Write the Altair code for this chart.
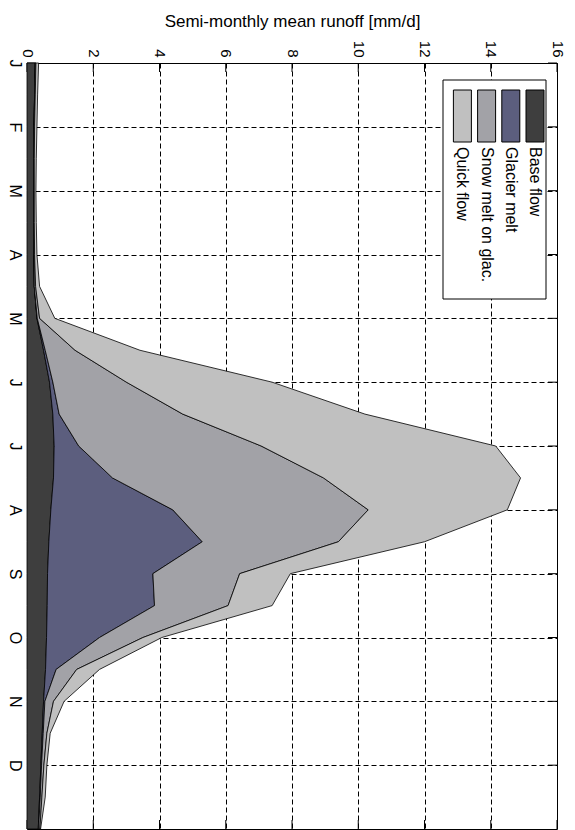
import altair as alt
import pandas as pd

# ---- data: semi-monthly mean runoff components [mm/d], 25 half-month steps (Jan 1 .. Dec 31)
HALF_MONTH = list(range(25))
MONTH_LABELS = ["J", "F", "M", "A", "M", "J", "J", "A", "S", "O", "N", "D"]

BASE_FLOW = [0.25, 0.23, 0.21, 0.20, 0.20, 0.20, 0.21, 0.22, 0.30, 0.50, 0.68, 0.78, 0.82,
             0.80, 0.72, 0.66, 0.62, 0.61, 0.59, 0.56, 0.50, 0.46, 0.42, 0.38, 0.34]
GLACIER_MELT = [0.00, 0.00, 0.00, 0.00, 0.00, 0.00, 0.00, 0.00, 0.01, 0.05, 0.10, 0.19, 0.74,
                1.78, 3.68, 4.63, 3.18, 3.24, 1.60, 0.32, 0.04, 0.03, 0.02, 0.02, 0.01]
SNOW_MELT_GLAC = [0.02, 0.02, 0.02, 0.02, 0.02, 0.02, 0.02, 0.04, 0.07, 0.90, 2.22, 3.73, 5.51,
                  6.37, 5.90, 4.11, 2.62, 2.22, 1.31, 0.62, 0.26, 0.11, 0.07, 0.05, 0.04]
QUICK_FLOW = [0.08, 0.07, 0.07, 0.06, 0.05, 0.06, 0.07, 0.12, 0.46, 1.96, 4.40, 5.50, 7.08,
              5.95, 4.20, 2.60, 1.53, 1.33, 0.57, 0.69, 0.32, 0.10, 0.09, 0.10, 0.02]

SERIES = ["Base flow", "Glacier melt", "Snow melt on glac.", "Quick flow"]
COLORS = ["#3e3e3e", "#5c5e7e", "#a2a2a7", "#c0c0c0"]
RUNOFF_TICKS = [0, 2, 4, 6, 8, 10, 12, 14, 16]
MONTH_TICKS = list(range(0, 24, 2))

# ---- layout
PLOT_W, PLOT_H = 530, 766
FONT = "Liberation Sans"
TICK_LEN = 9

rows = []
for k, (name, vals) in enumerate(zip(SERIES, [BASE_FLOW, GLACIER_MELT, SNOW_MELT_GLAC, QUICK_FLOW])):
    for t, v in zip(HALF_MONTH, vals):
        rows.append({"t": t, "value": v, "series": name, "k": k})
df = pd.DataFrame(rows)

x_scale = alt.Scale(domain=[0, 16], nice=False, zero=True)
y_scale = alt.Scale(domain=[0, 24], nice=False, reverse=True)
color_scale = alt.Scale(domain=SERIES, range=COLORS)

month_js = "[" + ",".join(f"'{m}'" for m in MONTH_LABELS) + "]"

x_axis = alt.Axis(orient="top", values=RUNOFF_TICKS, title="Semi-monthly mean runoff [mm/d]",
                  labelAngle=90, labelAlign="right", labelBaseline="middle",
                  labelPadding=6, ticks=False, domain=False,
                  grid=True, gridDash=[5, 3], gridColor="#000000", gridOpacity=1, gridWidth=1,
                  labelFont=FONT, labelFontSize=15, labelColor="#000000",
                  titleFont=FONT, titleFontSize=17, titleFontWeight="normal",
                  titleColor="#000000", titleY=-37, titleBaseline="alphabetic")
y_axis = alt.Axis(orient="left", values=MONTH_TICKS, title=None,
                  labelExpr=f"{month_js}[round(datum.value / 2)]",
                  labelAngle=90, labelAlign="center", labelBaseline="top",
                  labelPadding=5, ticks=False, domain=False,
                  grid=True, gridDash=[5, 3], gridColor="#000000", gridOpacity=1, gridWidth=1,
                  labelFont=FONT, labelFontSize=16, labelColor="#000000")

# inward tick marks on all four sides of the box (drawn first, under the areas)
xt = pd.DataFrame({"value": RUNOFF_TICKS})
yt = pd.DataFrame({"t": MONTH_TICKS})
tick_style = dict(color="black", strokeWidth=1)
ticks_top = alt.Chart(xt).mark_rule(**tick_style).encode(
    x=alt.X("value:Q", scale=x_scale, axis=x_axis), y=alt.value(0), y2=alt.value(TICK_LEN))
ticks_bottom = alt.Chart(xt).mark_rule(**tick_style).encode(
    x=alt.X("value:Q", scale=x_scale, axis=x_axis), y=alt.value(PLOT_H - TICK_LEN), y2=alt.value(PLOT_H))
ticks_left = alt.Chart(yt).mark_rule(**tick_style).encode(
    y=alt.Y("t:Q", scale=y_scale, axis=y_axis), x=alt.value(0), x2=alt.value(TICK_LEN))
ticks_right = alt.Chart(yt).mark_rule(**tick_style).encode(
    y=alt.Y("t:Q", scale=y_scale, axis=y_axis), x=alt.value(PLOT_W - TICK_LEN), x2=alt.value(PLOT_W))

areas = alt.Chart(df).mark_area(
    orient="horizontal", interpolate="linear", stroke="black", strokeWidth=0.8
).encode(
    x=alt.X("value:Q", stack="zero", scale=x_scale, axis=x_axis),
    y=alt.Y("t:Q", scale=y_scale, axis=y_axis),
    color=alt.Color("series:N", scale=color_scale, legend=None),
    order=alt.Order("k:Q"),
)

# legend, drawn rotated like the rest of the figure
LEG_X0, LEG_X1, LEG_Y0, LEG_Y1 = 416, 519, 17, 236
SW_W, SW_PITCH, SW_Y0, SW_Y1 = 18, 24.2, 27, 79
one = pd.DataFrame({"d": [0]})
legend_layers = [
    alt.Chart(one).mark_rect(fill="white", stroke="black", strokeWidth=1).encode(
        x=alt.value(LEG_X0), x2=alt.value(LEG_X1), y=alt.value(LEG_Y0), y2=alt.value(LEG_Y1))
]
for i, (name, col) in enumerate(zip(SERIES, COLORS)):
    cx = LEG_X1 - 11 - i * SW_PITCH
    legend_layers.append(
        alt.Chart(one).mark_rect(fill=col, stroke="black", strokeWidth=1).encode(
            x=alt.value(cx - SW_W / 2), x2=alt.value(cx + SW_W / 2),
            y=alt.value(SW_Y0), y2=alt.value(SW_Y1)))
    legend_layers.append(
        alt.Chart(one).mark_text(text=name, angle=90, align="left", baseline="middle",
                                 font=FONT, fontSize=16, color="black").encode(
            x=alt.value(cx), y=alt.value(SW_Y1 + 5)))

chart = alt.layer(
    ticks_top, ticks_bottom, ticks_left, ticks_right, areas, *legend_layers
).properties(
    width=PLOT_W, height=PLOT_H,
    autosize=alt.AutoSizeParams(type="none"),
    padding={"left": 27, "top": 63, "right": 18, "bottom": 1},
    background="white",
).configure_view(stroke="black", strokeWidth=1)

chart.save("out.html", embed_options={"renderer": "svg", "actions": False})
